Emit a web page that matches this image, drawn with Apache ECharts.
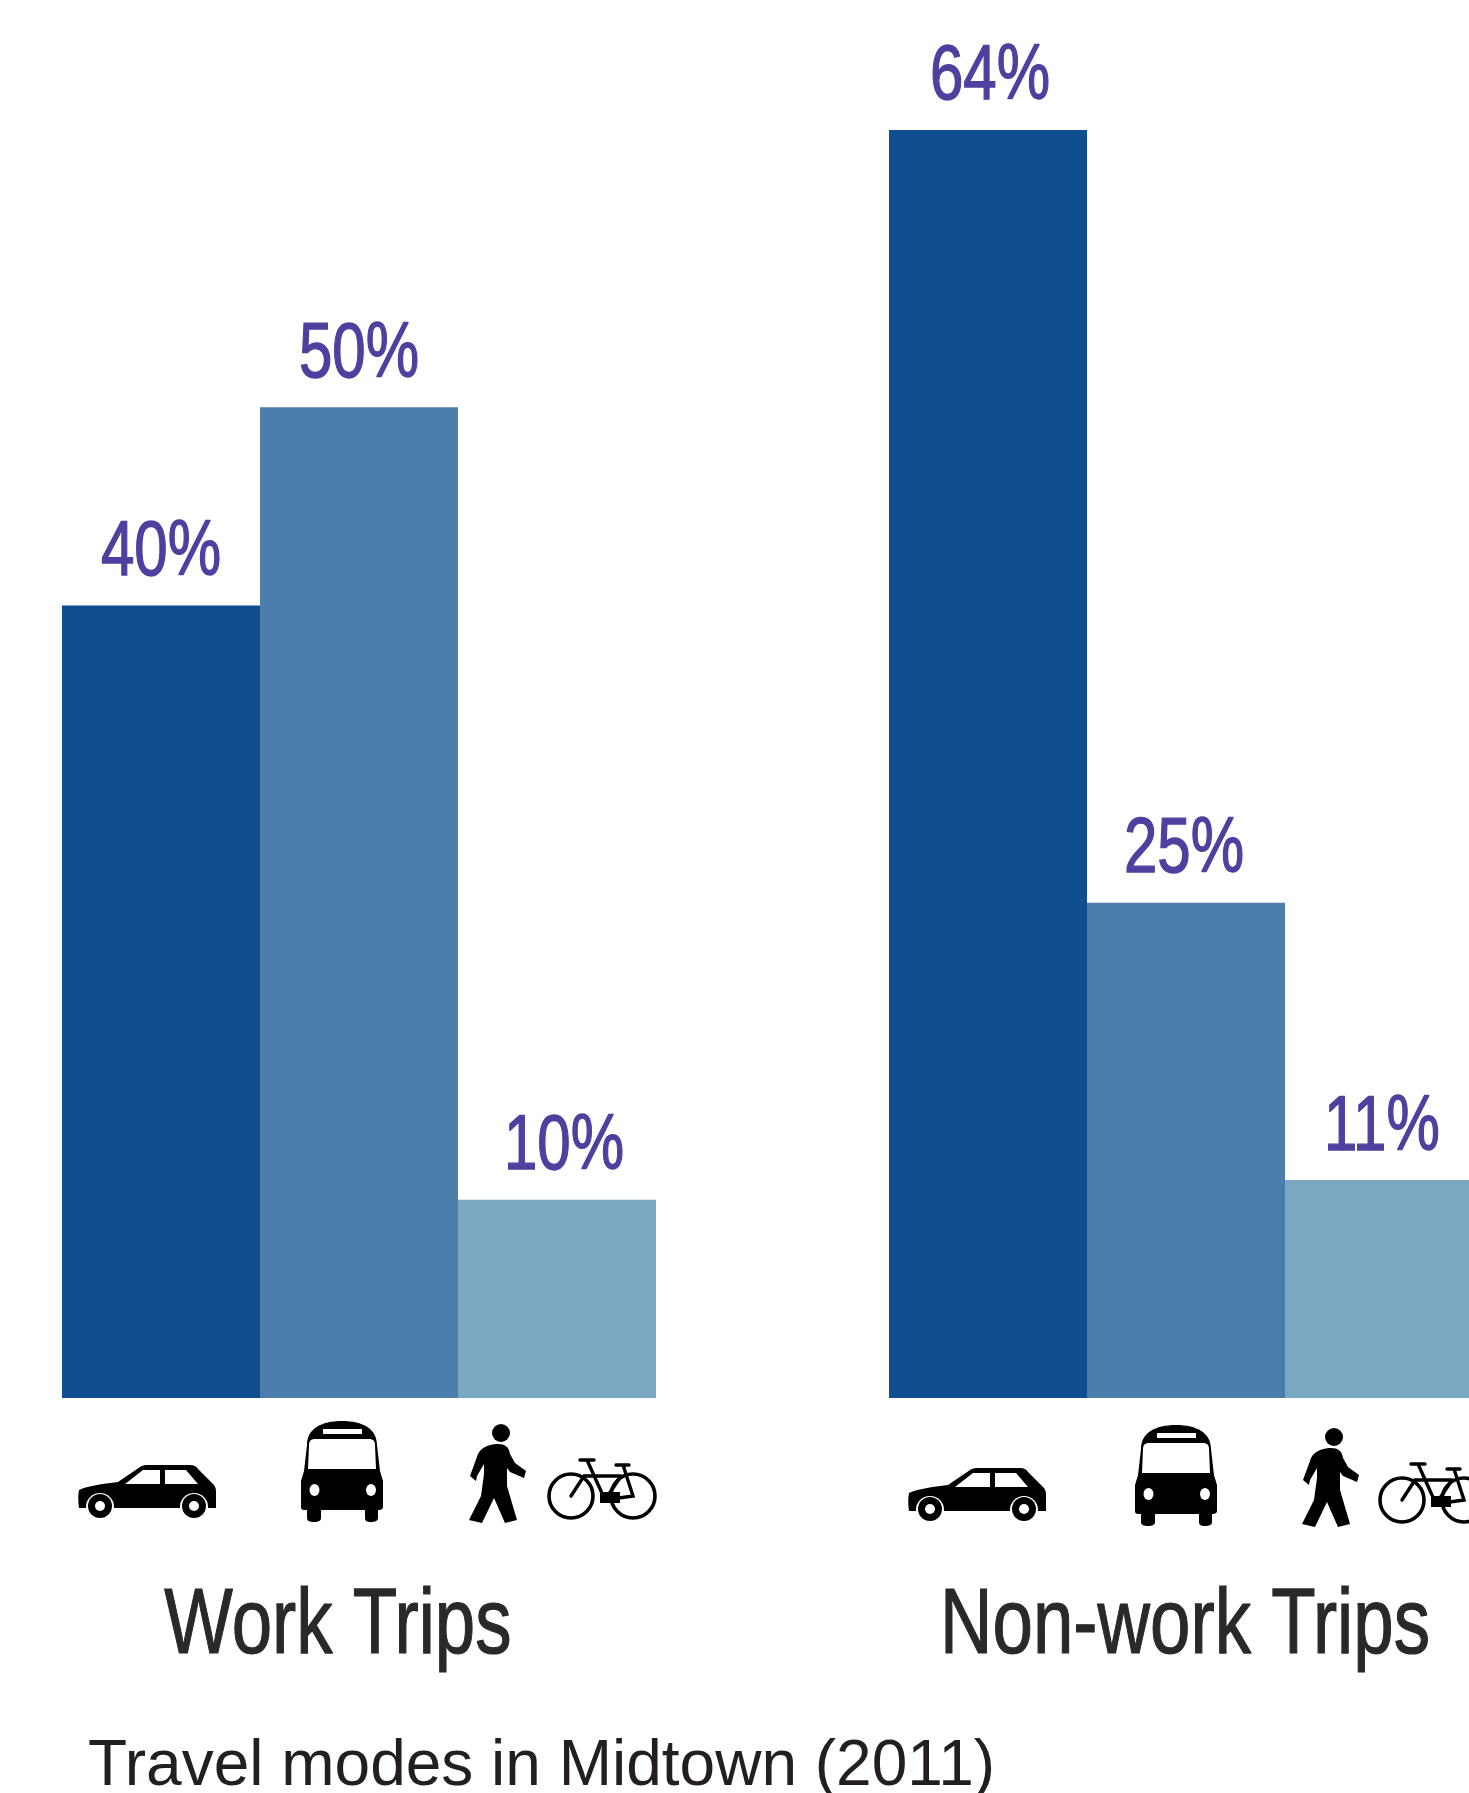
<!DOCTYPE html>
<html><head><meta charset="utf-8">
<style>html,body{margin:0;padding:0;background:#fff}#c{width:1469px;height:1793px}</style>
<script src="https://cdn.jsdelivr.net/npm/echarts@6/dist/echarts.min.js"></script>
</head><body><div id="c"></div>
<script>
const modes = ['Car', 'Bus', 'Walk/Bike'];
const workTrips = [40, 50, 10];
const nonWorkTrips = [64, 25, 11];
const groupNames = ['Work Trips', 'Non-work Trips'];
const caption = 'Travel modes in Midtown (2011)';
const barColors = ['#114e90', '#4b7eab', '#7aa8c3'];

const INK = '#000';
const icons = {
  car: [
    {d:'M1 25 C10 21 24 19 40 17 L62 2 C64 .5 67 0 70 0 L112 0 C116 0 118 1 120 4 L136 20 C138 23 138 25 138 28 L138 43 L1 43 C0 36 0 30 1 25 Z', fill:INK},
    {d:'M47 19 L65 5 L82 5 L82 19 Z', fill:'#fff'},
    {d:'M87 5 L108 5 L120 19 L87 19 Z', fill:'#fff'},
    {d:'M8 42 A14 14 0 0 1 36 42 L36 48 L8 48 Z', fill:'#fff'},
    {d:'M102 42 A14 14 0 0 1 130 42 L130 48 L102 48 Z', fill:'#fff'},
    {d:'M10 41 A12 12 0 1 1 34 41 A12 12 0 1 1 10 41 Z', fill:INK},
    {d:'M104 41 A12 12 0 1 1 128 41 A12 12 0 1 1 104 41 Z', fill:INK},
    {d:'M17 41 A5 5 0 1 1 27 41 A5 5 0 1 1 17 41 Z', fill:'#fff'},
    {d:'M111 41 A5 5 0 1 1 121 41 A5 5 0 1 1 111 41 Z', fill:'#fff'}
  ],
  bus: [
    {d:'M6 24 C6 8 20 0 41 0 C62 0 76 8 76 24 L79 50 L82 60 L82 86 C82 88 80 89 78 89 L77 89 L77 97 C77 100 74 101 70 101 C66 101 64 100 64 97 L64 89 L20 89 L20 97 C20 100 17 101 13 101 C9 101 6 100 6 97 L6 89 L3 89 C1 89 0 88 0 86 L0 60 L3 50 Z', fill:INK},
    {d:'M8 24 C8 20 10 18 14 18 L68 18 C72 18 74 20 74 24 L75 48 L7 48 Z', fill:'#fff'},
    {d:'M22 8 L61 8 L61 13 L22 13 Z', fill:'#fff'},
    {d:'M8.5 69 A5 6 0 1 1 18.5 69 A5 6 0 1 1 8.5 69 Z', fill:'#fff'},
    {d:'M65 69 A5 6 0 1 1 75 69 A5 6 0 1 1 65 69 Z', fill:'#fff'}
  ],
  walker: [
    {d:'M24 9 A9 9 0 1 1 42 9 A9 9 0 1 1 24 9 Z', fill:INK},
    {d:'M30 20 C37 20 41 23 42 30 L47 39 L58 47 L56 54 L42 48 L39 44 L39 62 L49 96 L37 99 L26 74 L14 99 L1 96 L13 72 L16 50 L16 40 L9 52 L8 57 L2 52 L10 30 C14 22 24 20 30 20 Z', fill:INK}
  ],
  bike: [
    {d:'M2 38 A22 22 0 1 1 46 38 A22 22 0 1 1 2 38 Z', stroke:INK, lw:3.6},
    {d:'M64 38 A22 22 0 1 1 108 38 A22 22 0 1 1 64 38 Z', stroke:INK, lw:3.6},
    {d:'M33 2 L47 2 M40 2 L58 42 L86 38 L76 7 M69 7 L82 7 M37 18 L74 18 M37 18 L24 38 M74 18 L58 42', stroke:INK, lw:3.4},
    {d:'M53 34 L73 34 L73 45 L53 45 Z', fill:INK}
  ]
};
const iconKinds = ['car', 'bus', 'walker', 'bike', 'car', 'bus', 'walker', 'bike'];
const iconX = [78, 301, 468, 547, 908, 1135, 1301, 1378];
const iconY = [1465, 1421, 1424, 1458, 1468, 1425, 1428, 1462];

const textFont = '"Liberation Sans",Arial,sans-serif';
const labelNudgeX = [[0, 0, 7], [2, -2, -2]];
const nameX = [338, 1185];

const barSeries = (values, i) => ({
  type: 'bar', xAxisIndex: i, yAxisIndex: i, barWidth: '100%', barGap: 0, silent: true,
  data: values.map((v, j) => ({value: v, itemStyle: {color: barColors[j]}}))
});
const labelSeries = (values, i) => ({
  type: 'custom', coordinateSystem: 'cartesian2d', xAxisIndex: i, yAxisIndex: i, silent: true, clip: false,
  data: values.map((v, j) => [j, v]),
  renderItem: (params, api) => {
    const j = api.value(0), v = api.value(1), p = api.coord([j, v]);
    return {
      type: 'text', x: p[0] + labelNudgeX[i][j], y: p[1] - 52, scaleX: 0.77,
      style: {text: v + '%', fill: '#4f3f9f', stroke: '#4f3f9f', lineWidth: 1.4, fontFamily: textFont, fontSize: 78, align: 'center', verticalAlign: 'middle'}
    };
  }
});
const extrasSeries = {
  type: 'custom', coordinateSystem: 'none', silent: true, clip: false,
  data: iconKinds.map((k, i) => i),
  renderItem: (params) => {
    const i = params.dataIndex;
    return {
      type: 'group', x: iconX[i], y: iconY[i],
      children: icons[iconKinds[i]].map(p => ({
        type: 'path',
        shape: {pathData: p.d},
        style: {fill: p.fill || 'none', stroke: p.stroke || 'none', lineWidth: p.lw || 0, lineCap: 'round'}
      }))
    };
  }
};
const namesSeries = {
  type: 'custom', coordinateSystem: 'none', silent: true, clip: false,
  data: groupNames.map((n, i) => i),
  renderItem: (params) => {
    const i = params.dataIndex;
    return {
      type: 'text', x: nameX[i], y: 1628, scaleX: 0.79,
      style: {text: groupNames[i], fill: '#2a2829', stroke: '#2a2829', lineWidth: 1.2, fontFamily: textFont, fontSize: 92, align: 'center', verticalAlign: 'middle'}
    };
  }
};
const grids = [
  {left: 62, width: 594, top: 11, height: 1387, outerBoundsMode: 'none'},
  {left: 889, width: 594, top: 11, height: 1387, outerBoundsMode: 'none'}
];
const chart = echarts.init(document.getElementById('c'), null, {renderer: 'canvas'});
chart.setOption({
  animation: false,
  backgroundColor: '#fff',
  title: {text: caption, left: 83, top: 1730,
    textStyle: {fontFamily: textFont, fontWeight: 'normal', fontSize: 64, color: '#231f20'}},
  grid: grids,
  xAxis: groupNames.map((n, i) => ({
    type: 'category', gridIndex: i, data: modes,
    axisLine: {show: false}, axisTick: {show: false}, axisLabel: {show: false}
  })),
  yAxis: groupNames.map((n, i) => ({type: 'value', gridIndex: i, min: 0, max: 70, show: false})),
  series: [workTrips, nonWorkTrips].map(barSeries)
    .concat([workTrips, nonWorkTrips].map(labelSeries))
    .concat([extrasSeries, namesSeries])
});
</script></body></html>
